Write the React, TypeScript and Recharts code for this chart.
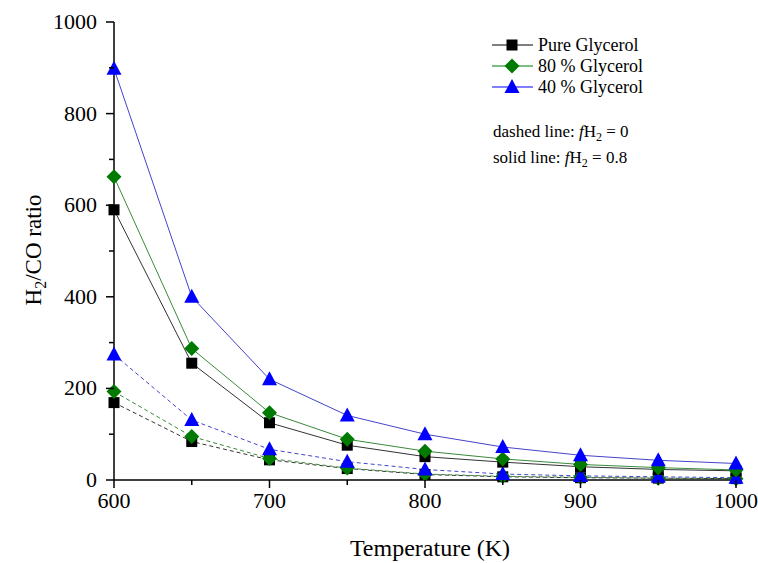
import React from "react";
import { LineChart, Line, XAxis, YAxis } from "recharts";

const temps = [600, 650, 700, 750, 800, 850, 900, 950, 1000];

// solid line: fH2 = 0.8
const pureSolid = [590, 255, 125, 76, 51, 39, 29, 23, 20];
const g80Solid = [662, 287, 147, 89, 63, 46, 34, 27, 22];
const g40Solid = [898, 400, 220, 141, 100, 72, 54, 43, 36];

// dashed line: fH2 = 0
const pureDashed = [169, 84, 44, 25, 12, 7, 5, 4, 3];
const g80Dashed = [193, 95, 47, 26, 13, 8, 6, 4, 3];
const g40Dashed = [274, 131, 67, 40, 23, 13, 9, 7, 5];

const xTicks = [600, 650, 700, 750, 800, 850, 900, 950, 1000];
const yTicks = [0, 100, 200, 300, 400, 500, 600, 700, 800, 900, 1000];

const data = temps.map((t, i) => ({
  t,
  pureSolid: pureSolid[i],
  g80Solid: g80Solid[i],
  g40Solid: g40Solid[i],
  pureDashed: pureDashed[i],
  g80Dashed: g80Dashed[i],
  g40Dashed: g40Dashed[i],
}));

const FONT = "'Liberation Serif', 'Times New Roman', serif";
const BLACK = "#000000";
const GREEN = "#007a00";
const BLUE = "#0000ff";

const Square = ({ cx, cy, fill }: any) => (
  <rect x={cx - 5.5} y={cy - 5.5} width={11} height={11} fill={fill} />
);
const Diamond = ({ cx, cy, fill }: any) => (
  <polygon points={`${cx},${cy - 7.5} ${cx + 7.5},${cy} ${cx},${cy + 7.5} ${cx - 7.5},${cy}`} fill={fill} />
);
const Triangle = ({ cx, cy, fill }: any) => (
  <polygon points={`${cx},${cy - 8} ${cx + 7.5},${cy + 6} ${cx - 7.5},${cy + 6}`} fill={fill} />
);

const XTick = (props: any) => {
  const { x, y, payload } = props;
  const major = payload.value % 100 === 0;
  return (
    <g>
      <line x1={x} x2={x} y1={y} y2={y + (major ? 8 : 5)} stroke="#000" strokeWidth={1.5} />
      {major && (
        <text x={x} y={y + 28} textAnchor="middle" fontFamily={FONT} fontSize={22} fill="#000">
          {payload.value}
        </text>
      )}
    </g>
  );
};

const YTick = (props: any) => {
  const { x, y, payload } = props;
  const major = payload.value % 200 === 0;
  return (
    <g>
      <line x1={x} x2={x - (major ? 8 : 5)} y1={y} y2={y} stroke="#000" strokeWidth={1.5} />
      {major && (
        <text x={x - 17} y={y + 7} textAnchor="end" fontFamily={FONT} fontSize={22} fill="#000">
          {payload.value}
        </text>
      )}
    </g>
  );
};

const LegendRow = ({ y, color, label, Marker }: any) => (
  <g>
    <line x1={492} x2={533} y1={y} y2={y} stroke={color} strokeWidth={1} />
    <Marker cx={512} cy={y} fill={color} />
    <text x={538} y={y + 6} fontFamily={FONT} fontSize={18} fill="#000">
      {label}
    </text>
  </g>
);

export default function App() {
  return (
    <div style={{ position: "absolute", left: 0, top: 0, width: 758, height: 563, background: "#fff" }}>
      <LineChart
        width={758}
        height={563}
        data={data}
        margin={{ top: 22, right: 22, left: 54, bottom: 53 }}
      >
        <XAxis
          dataKey="t"
          type="number"
          domain={[600, 1000]}
          ticks={xTicks}
          interval={0}
          tickSize={0}
          tickMargin={0}
          tick={XTick}
          tickLine={false}
          axisLine={{ stroke: "#000", strokeWidth: 1.5 }}
          height={30}
        />
        <YAxis
          type="number"
          domain={[0, 1000]}
          ticks={yTicks}
          interval={0}
          tickSize={0}
          tickMargin={0}
          tick={YTick}
          tickLine={false}
          axisLine={{ stroke: "#000", strokeWidth: 1.5 }}
          width={60}
        />
        <Line dataKey="pureDashed" stroke="#333" strokeWidth={1} strokeDasharray="4 3" isAnimationActive={false}
          dot={(p: any) => <Square key={p.index} cx={p.cx} cy={p.cy} fill={BLACK} />} />
        <Line dataKey="g80Dashed" stroke="#3a8a3a" strokeWidth={1} strokeDasharray="4 3" isAnimationActive={false}
          dot={(p: any) => <Diamond key={p.index} cx={p.cx} cy={p.cy} fill={GREEN} />} />
        <Line dataKey="g40Dashed" stroke="#4444cc" strokeWidth={1} strokeDasharray="4 3" isAnimationActive={false}
          dot={(p: any) => <Triangle key={p.index} cx={p.cx} cy={p.cy} fill={BLUE} />} />
        <Line dataKey="pureSolid" stroke="#333" strokeWidth={1} isAnimationActive={false}
          dot={(p: any) => <Square key={p.index} cx={p.cx} cy={p.cy} fill={BLACK} />} />
        <Line dataKey="g80Solid" stroke="#3a8a3a" strokeWidth={1} isAnimationActive={false}
          dot={(p: any) => <Diamond key={p.index} cx={p.cx} cy={p.cy} fill={GREEN} />} />
        <Line dataKey="g40Solid" stroke="#4444cc" strokeWidth={1} isAnimationActive={false}
          dot={(p: any) => <Triangle key={p.index} cx={p.cx} cy={p.cy} fill={BLUE} />} />
      </LineChart>
      <svg
        width={758}
        height={563}
        style={{ position: "absolute", left: 0, top: 0, pointerEvents: "none" }}
      >
        <LegendRow y={45} color={BLACK} label="Pure Glycerol" Marker={Square} />
        <LegendRow y={66} color={GREEN} label="80 % Glycerol" Marker={Diamond} />
        <LegendRow y={87} color={BLUE} label="40 % Glycerol" Marker={Triangle} />
        <text x={493} y={137} fontFamily={FONT} fontSize={17} fill="#000">
          dashed line: <tspan fontStyle="italic">f</tspan>H<tspan fontSize={12} dy={4}>2</tspan>
          <tspan dy={-4}> = 0</tspan>
        </text>
        <text x={493} y={163} fontFamily={FONT} fontSize={17} fill="#000">
          solid line: <tspan fontStyle="italic">f</tspan>H<tspan fontSize={12} dy={4}>2</tspan>
          <tspan dy={-4}> = 0.8</tspan>
        </text>
        <text x={430} y={556} textAnchor="middle" fontFamily={FONT} fontSize={24} fill="#000">
          Temperature (K)
        </text>
        <text
          transform="translate(41, 250) rotate(-90)"
          textAnchor="middle"
          fontFamily={FONT}
          fontSize={23}
          fill="#000"
        >
          H<tspan fontSize={16} dy={5}>2</tspan>
          <tspan dy={-5}>/CO ratio</tspan>
        </text>
      </svg>
    </div>
  );
}
